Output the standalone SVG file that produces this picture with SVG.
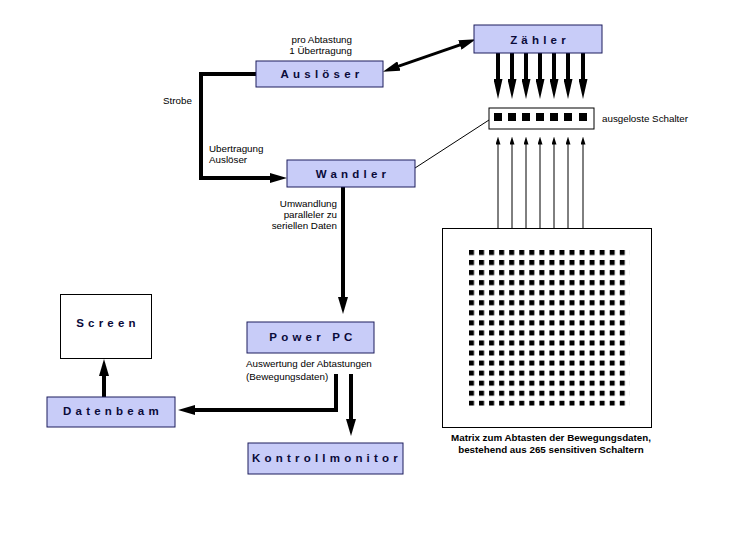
<svg xmlns="http://www.w3.org/2000/svg" width="746" height="539" viewBox="0 0 746 539">
<style>
.box{fill:#c8ccf8;stroke:#1c1c5c;stroke-width:1}
.wbox{fill:#ffffff;stroke:#000000;stroke-width:1}
.lbl{font-family:"Liberation Sans",Arial,sans-serif;font-weight:bold;font-size:11.5px;letter-spacing:4.2px;fill:#0a0a3a;text-anchor:middle}
.sm{font-family:"Liberation Sans",Arial,sans-serif;font-size:9.8px;fill:#000000}
.cap{font-family:"Liberation Sans",Arial,sans-serif;font-weight:bold;font-size:9.8px;fill:#000000;text-anchor:middle}
.thick{fill:none;stroke:#000000;stroke-width:4}
.thin{fill:none;stroke:#000000;stroke-width:1}
</style>
<defs>
<marker id="ah" viewBox="0 -5 17 10" refX="1" refY="0" markerWidth="17" markerHeight="10" markerUnits="userSpaceOnUse" orient="auto-start-reverse">
<path d="M0,-5 L17,0 L0,5 z" fill="#000"/>
</marker>
<marker id="ahd" viewBox="0 -4.5 20 9" refX="1" refY="0" markerWidth="20" markerHeight="9" markerUnits="userSpaceOnUse" orient="auto">
<path d="M0,-4.5 L20,0 L0,4.5 z" fill="#000"/>
</marker>
<marker id="ahs" viewBox="0 -2.5 8 5" refX="0.5" refY="0" markerWidth="8" markerHeight="5" markerUnits="userSpaceOnUse" orient="auto">
<path d="M0,-2.5 L8,0 L0,2.5 z" fill="#000"/>
</marker>
<pattern id="dots" x="469" y="250" width="10.05" height="10.05" patternUnits="userSpaceOnUse">
<rect x="0" y="0" width="5" height="5" fill="#000"/>
</pattern>
</defs>

<g id="connectors">
<path class="thick" style="stroke-width:3" d="M398,66.4 L460.8,44.6" marker-start="url(#ah)" marker-end="url(#ah)"/>
<path class="thick" d="M256,74 H201 V178 H271" marker-end="url(#ah)"/>
<path class="thick" d="M343,187 V298" marker-end="url(#ah)"/>
<path class="thick" d="M336,374 V410 H194" marker-end="url(#ah)"/>
<path class="thick" d="M351,374 V420" marker-end="url(#ah)"/>
<path class="thick" d="M104,397 V375" marker-end="url(#ah)"/>
<path class="thick" d="M498,53 V80" marker-end="url(#ahd)"/>
<path class="thick" d="M512,53 V80" marker-end="url(#ahd)"/>
<path class="thick" d="M526,53 V80" marker-end="url(#ahd)"/>
<path class="thick" d="M540,53 V80" marker-end="url(#ahd)"/>
<path class="thick" d="M554,53 V80" marker-end="url(#ahd)"/>
<path class="thick" d="M568,53 V80" marker-end="url(#ahd)"/>
<path class="thick" d="M583,53 V80" marker-end="url(#ahd)"/>
<path class="thin" d="M498,240 V144" marker-end="url(#ahs)"/>
<path class="thin" d="M512,240 V144" marker-end="url(#ahs)"/>
<path class="thin" d="M526,240 V144" marker-end="url(#ahs)"/>
<path class="thin" d="M540,240 V144" marker-end="url(#ahs)"/>
<path class="thin" d="M554,240 V144" marker-end="url(#ahs)"/>
<path class="thin" d="M568,240 V144" marker-end="url(#ahs)"/>
<path class="thin" d="M583,240 V144" marker-end="url(#ahs)"/>
<path class="thin" d="M415,168 L489,120"/>
</g>

<g id="zaehler">
<rect class="box" x="474" y="25" width="128" height="28"/>
<text class="lbl" x="540" y="44">Zähler</text>
</g>

<g id="ausloeser">
<rect class="box" x="256" y="61" width="127" height="26"/>
<text class="lbl" x="322" y="78">Auslöser</text>
</g>

<g id="wandler">
<rect class="box" x="287" y="160" width="128" height="27"/>
<text class="lbl" x="353" y="178">Wandler</text>
</g>

<g id="schalter">
<rect class="wbox" x="489" y="108" width="105" height="21"/>
<rect x="494" y="113" width="8" height="8" fill="#000"/>
<rect x="508" y="113" width="8" height="8" fill="#000"/>
<rect x="522" y="113" width="8" height="8" fill="#000"/>
<rect x="536" y="113" width="8" height="8" fill="#000"/>
<rect x="550" y="113" width="8" height="8" fill="#000"/>
<rect x="564" y="113" width="8" height="8" fill="#000"/>
<rect x="579" y="113" width="8" height="8" fill="#000"/>
<text class="sm" x="602" y="122">ausgeloste Schalter</text>
</g>

<g id="matrix">
<rect class="wbox" x="442.5" y="228.5" width="209" height="199"/>
<rect x="469" y="250" width="160.3" height="155.8" fill="url(#dots)"/>
<text class="cap" x="551" y="441">Matrix zum Abtasten der Bewegungsdaten,</text>
<text class="cap" x="551" y="453">bestehend aus 265 sensitiven Schaltern</text>
</g>

<g id="powerpc">
<rect class="box" x="247" y="322" width="127" height="31"/>
<text class="lbl" x="313" y="341">Power PC</text>
</g>

<g id="screen">
<rect class="wbox" x="60.5" y="294.5" width="91" height="64"/>
<text class="lbl" x="108" y="327">Screen</text>
</g>

<g id="datenbeam">
<rect class="box" x="47" y="397" width="128" height="30"/>
<text class="lbl" x="113" y="415">Datenbeam</text>
</g>

<g id="kontrollmonitor">
<rect class="box" x="248" y="443" width="155" height="31"/>
<text class="lbl" x="327" y="462">Kontrollmonitor</text>
</g>

<g id="labels">
<text class="sm" x="352" y="43" text-anchor="end">pro Abtastung</text>
<text class="sm" x="352" y="54" text-anchor="end">1 Übertragung</text>
<text class="sm" x="163" y="104">Strobe</text>
<text class="sm" x="209" y="152">Ubertragung</text>
<text class="sm" x="209" y="163">Auslöser</text>
<text class="sm" x="337" y="207" text-anchor="end">Umwandlung</text>
<text class="sm" x="337" y="218" text-anchor="end">paralleler zu</text>
<text class="sm" x="337" y="229" text-anchor="end">seriellen Daten</text>
<text class="sm" x="246" y="367">Auswertung der Abtastungen</text>
<text class="sm" x="246" y="380">(Bewegungsdaten)</text>
</g>
</svg>
